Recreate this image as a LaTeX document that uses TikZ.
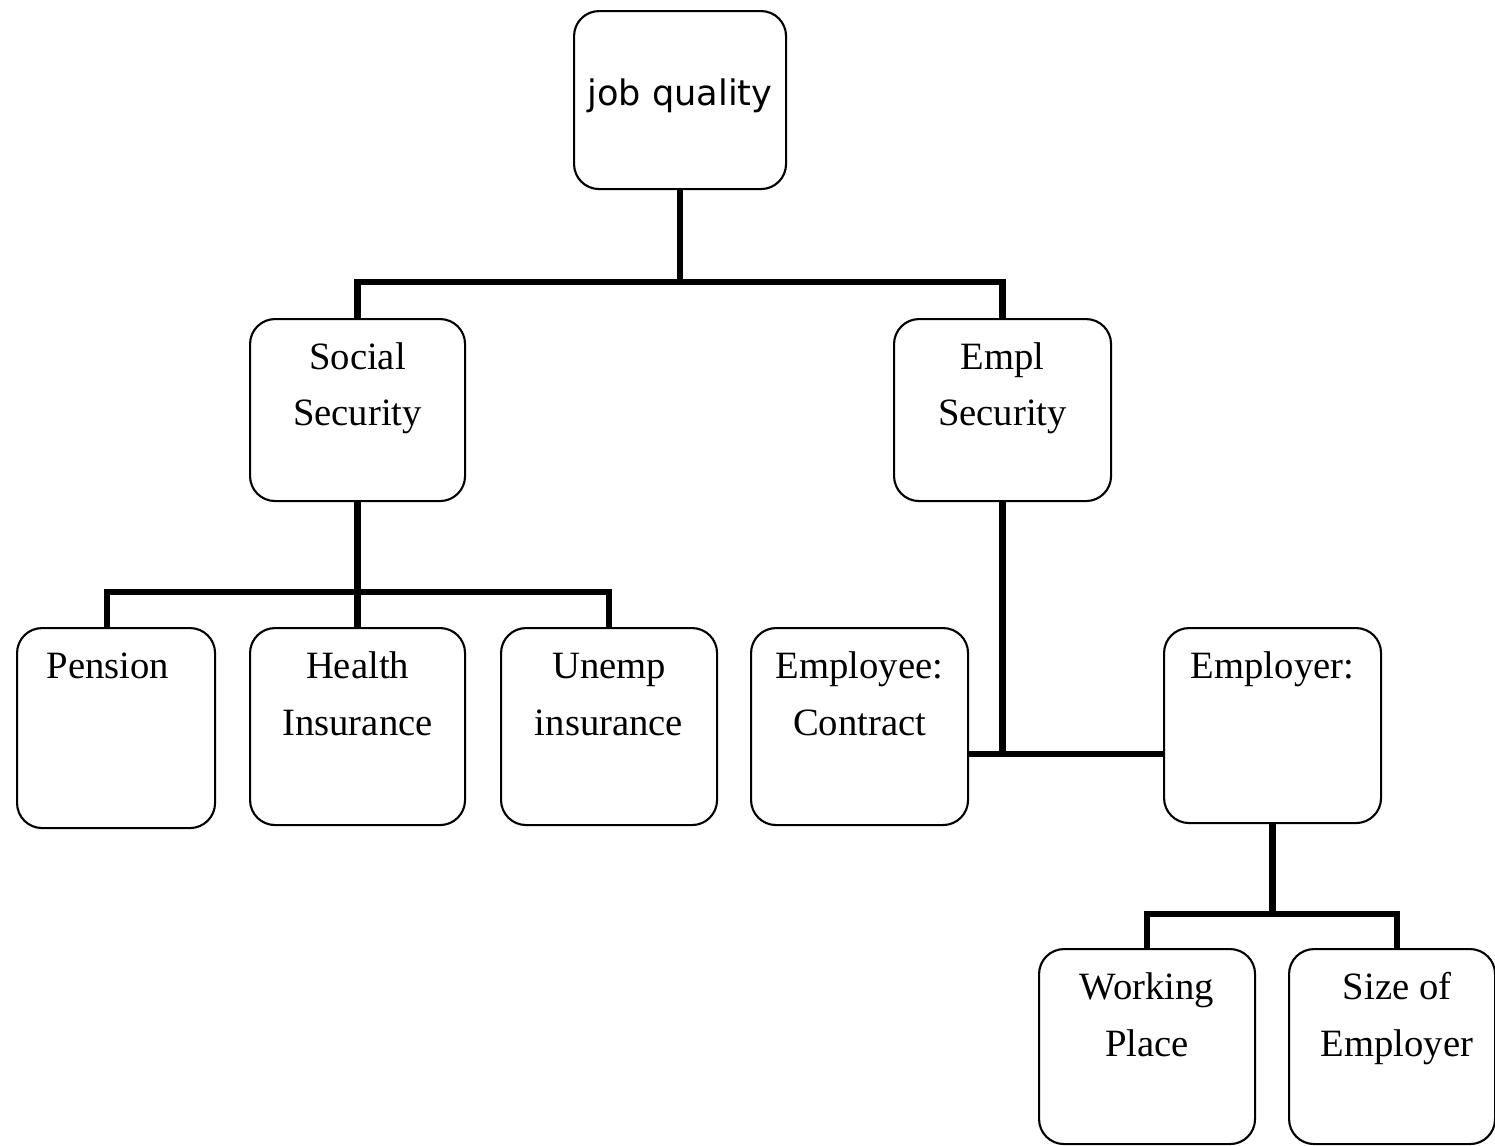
\documentclass[tikz,border=0pt]{standalone}
\usepackage{fontspec}
\setmainfont{Liberation Serif}
\newfontfamily\jqfont{DejaVu Sans}
\usetikzlibrary{calc}
\newcommand\bxt[3]{\parbox[c][#2][t]{#1}{\centering\fontsize{11}{16.2}\selectfont\rule{0pt}{0.5cm}#3}}
\begin{document}
\begin{tikzpicture}[
 box/.style={draw, line width=0.6pt, rounded corners=0.25cm, inner sep=0pt, anchor=north west},
 conn/.style={line width=1.8pt}
]
\useasboundingbox (0,0) rectangle (14.95,-11.46);
% boxes
\node[box] (jq) at (5.73,-0.10) {\parbox[c][1.78cm][c]{2.12cm}{\centering\jqfont\fontsize{10}{12}\selectfont job quality\par\vspace{0.08cm}}};
\node[box] (ss) at (2.49,-3.18) {\bxt{2.15cm}{1.82cm}{Social\\Security}};
\node[box] (es) at (8.93,-3.18) {\bxt{2.17cm}{1.82cm}{Empl\\Security}};
\node[box] (pen) at (0.16,-6.27) {\bxt{1.98cm}{2.00cm}{\hspace*{-0.16cm}Pension}};
\node[box] (hi) at (2.49,-6.27) {\bxt{2.15cm}{1.97cm}{Health\\Insurance}};
\node[box] (ui) at (5.00,-6.27) {\bxt{2.16cm}{1.97cm}{Unemp\\insurance}};
\node[box] (ec) at (7.50,-6.27) {\bxt{2.17cm}{1.97cm}{Employee:\\Contract}};
\node[box] (emp) at (11.63,-6.27) {\bxt{2.17cm}{1.95cm}{Employer:}};
\node[box] (wp) at (10.38,-9.48) {\bxt{2.16cm}{1.95cm}{Working\\Place}};
\node[box] (se) at (12.88,-9.48) {\bxt{2.06cm}{1.95cm}{\hspace*{0.1cm}Size of\\\hspace*{0.1cm}Employer}};
% junction coordinates
\coordinate (penT) at (1.07,-6.27);
\coordinate (seT) at (13.97,-9.48);
% connectors
\draw[conn] (jq.south) -- ++(0,-0.92) coordinate (j1);
\draw[conn] (ss.north) |- (j1) -| (es.north);
\draw[conn] (ss.south) -- ++(0,-0.90) coordinate (j2);
\draw[conn] (penT) |- (j2) -| (ui.north);
\draw[conn] (j2) -- (j2 |- hi.north);
\draw[conn] (es.south) -- ++(0,-2.52) coordinate (j3);
\draw[conn] (j3 -| ec.east) -- (j3 -| emp.west);
\draw[conn] (emp.south) -- ++(0,-0.90) coordinate (j4);
\draw[conn] (wp.north) |- (j4) -| (seT);
\end{tikzpicture}
\end{document}
